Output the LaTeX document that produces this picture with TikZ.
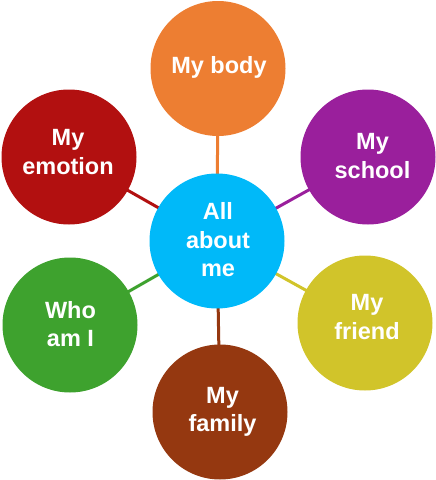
\documentclass[tikz,border=0pt]{standalone}
\usepackage{fontspec}
\setmainfont{Liberation Sans}
\usetikzlibrary{backgrounds}
\definecolor{cOrange}{HTML}{ED7E32}
\definecolor{cRed}{HTML}{B21010}
\definecolor{cPurple}{HTML}{9A1F9C}
\definecolor{cBlue}{HTML}{00B9F9}
\definecolor{cGreen}{HTML}{3EA22E}
\definecolor{cYellow}{HTML}{D1C42A}
\definecolor{cBrown}{HTML}{953810}
\begin{document}
\begin{tikzpicture}[x=1pt,y=-1pt,
  bubble/.style={circle,minimum size=135pt,inner sep=0pt},
  txt/.style={inner sep=0pt,text=white,
    font=\fontsize{23.5}{28.5}\selectfont\bfseries,align=center},
  link/.style={line width=3pt}]
\useasboundingbox (0,0) rectangle (436,480);
\node[bubble,fill=cBlue] (c) at (217,241) {};
\node[bubble,fill=cOrange] (body) at (218,68.5) {};
\node[bubble,fill=cRed] (emo) at (69,157) {};
\node[bubble,fill=cPurple] (school) at (368,157) {};
\node[bubble,fill=cGreen] (who) at (70,325) {};
\node[bubble,fill=cYellow] (friend) at (365,323) {};
\node[bubble,fill=cBrown] (family) at (220,412) {};
\node[txt] (tc) at (218,240) {All\\about\\me};
\node[txt] (tbody) at (219,67) {My body};
\node[txt] (temo) at (68,152) {My\\emotion};
\node[txt] (tschool) at (372.5,156) {My\\school};
\node[txt] (twho) at (70.5,324) {Who\\am I};
\node[txt] (tfriend) at (367,317) {My\\friend};
\node[txt] (tfamily) at (222.5,412) {My\\family};
\begin{scope}[on background layer]
\draw[link,cOrange] (c.center) -- (body.center);
\draw[link,cRed] (c.center) -- (emo.center);
\draw[link,cPurple] (c.center) -- (school.center);
\draw[link,cGreen] (c.center) -- (who.center);
\draw[link,cYellow] (c.center) -- (friend.center);
\draw[link,cBrown] (c.center) -- (family.center);
\end{scope}
\end{tikzpicture}
\end{document}
